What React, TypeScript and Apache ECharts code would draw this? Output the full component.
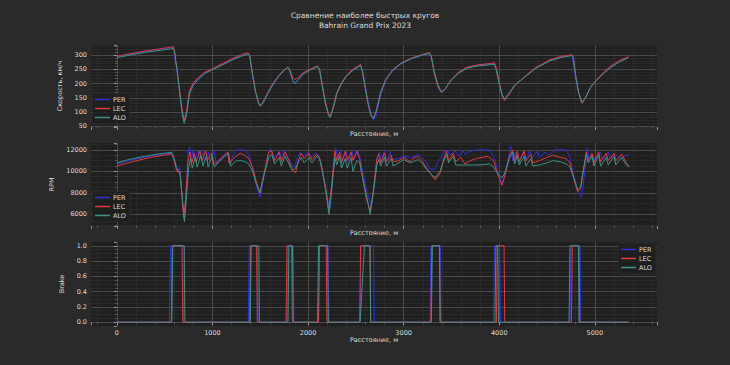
import React, { useEffect, useRef } from 'react';
import * as echarts from 'echarts';

const drivers = ['PER', 'LEC', 'ALO'];
const driverColors = ['#2f2fe0', '#e6383c', '#3a9585'];
const titleText = 'Сравнение наиболее быстрых кругов\nBahrain Grand Prix 2023';
const xName = 'Расстояние, м';
const yNames = ['Скорость, км/ч', 'RPM', 'Brake'];

const speedDist = [
  0, 100, 200, 300, 400, 500, 560, 590, 605, 615,
  630, 650, 670, 690, 705, 730, 760, 800, 860, 920,
  1000, 1100, 1200, 1300, 1370, 1390, 1420, 1450, 1480, 1500,
  1530, 1580, 1640, 1700, 1760, 1790, 1810, 1840, 1860, 1890,
  1950, 2030, 2100, 2120, 2150, 2180, 2210, 2230, 2260, 2300,
  2350, 2400, 2470, 2550, 2570, 2600, 2630, 2660, 2685, 2710,
  2760, 2810, 2880, 2970, 3080, 3180, 3270, 3290, 3320, 3360,
  3395, 3430, 3500, 3580, 3670, 3780, 3880, 3950, 3970, 4000,
  4030, 4055, 4090, 4160, 4260, 4380, 4530, 4650, 4760, 4775,
  4800, 4830, 4865, 4900, 4960, 5020, 5100, 5160, 5250, 5353,
];

const perSpeed = [
  295, 301, 307, 313, 318, 323, 326, 329, 290, 276,
  240, 185, 130, 85, 64, 95, 168, 198, 220, 237,
  250, 267, 284, 298, 306, 295, 225, 170, 135, 124,
  130, 165, 200, 228, 250, 258, 245, 212, 200, 212,
  235, 250, 261, 250, 190, 135, 95, 84, 110, 165,
  200, 225, 248, 265, 245, 190, 135, 95, 72, 84,
  160, 208, 243, 269, 287, 298, 306, 292, 240, 192,
  172, 180, 214, 240, 257, 265, 269, 272, 248, 200,
  162, 143, 158, 193, 222, 255, 282, 294, 301, 270,
  215, 168, 132, 148, 190, 213, 240, 258, 278, 294,
];

const lecSpeed = [
  296, 303, 309, 315, 320, 325, 328, 331, 310, 282,
  255, 195, 140, 95, 70, 105, 175, 203, 224, 240,
  252, 270, 287, 301, 309, 300, 235, 175, 135, 122,
  135, 170, 204, 231, 252, 258, 248, 222, 214, 220,
  238, 252, 262, 252, 195, 140, 98, 82, 112, 168,
  203, 228, 251, 267, 238, 180, 125, 85, 80, 100,
  170, 213, 247, 272, 290, 301, 309, 295, 235, 188,
  168, 178, 215, 242, 259, 266, 270, 273, 255, 205,
  158, 140, 156, 192, 223, 256, 284, 296, 302, 293,
  228, 170, 130, 148, 190, 214, 242, 260, 280, 295,
];

const aloSpeed = [
  292, 298, 304, 310, 315, 319, 322, 324, 312, 282,
  250, 190, 130, 82, 60, 92, 163, 195, 217, 235,
  249, 265, 282, 296, 304, 298, 230, 172, 132, 120,
  132, 166, 201, 229, 250, 257, 244, 210, 199, 210,
  234, 249, 260, 250, 188, 132, 92, 80, 108, 163,
  200, 225, 247, 264, 244, 185, 128, 86, 76, 98,
  168, 211, 245, 270, 288, 299, 307, 296, 242, 195,
  170, 179, 213, 238, 255, 262, 266, 268, 246, 198,
  160, 145, 160, 194, 221, 253, 280, 292, 299, 290,
  225, 168, 133, 150, 190, 212, 238, 255, 275, 291,
];

const perRpm = [
  [0, 10700], [100, 10950], [200, 11150], [300, 11350], [400, 11500], [500, 11620], [570, 11700], [600, 11200],
  [625, 10300], [640, 10000], [655, 10400], [670, 9200], [690, 6500], [707, 5500], [725, 8000], [745, 11600],
  [760, 12300], [780, 11000], [800, 12100], [815, 11200], [850, 11900], [865, 11100], [900, 11900], [915, 11000],
  [960, 11800], [975, 10900], [1020, 11900], [1040, 10700], [1100, 11300], [1160, 11750], [1180, 10800], [1240, 11900],
  [1260, 12000], [1330, 12000], [1370, 11700], [1400, 11000], [1440, 9500], [1470, 8300], [1500, 7600], [1540, 9500],
  [1580, 11600], [1610, 12100], [1640, 11200], [1700, 11900], [1720, 11100], [1750, 12000], [1790, 11300], [1830, 10600],
  [1860, 10400], [1890, 11300], [1920, 11800], [1950, 11400], [2000, 11800], [2030, 11300], [2080, 11700], [2110, 11500],
  [2140, 10500], [2170, 9000], [2200, 7500], [2230, 6600], [2260, 9500], [2290, 12200], [2310, 11200], [2340, 11900],
  [2360, 10900], [2400, 11800], [2420, 11000], [2460, 11900], [2480, 11100], [2520, 11900], [2545, 11300], [2580, 9600],
  [2620, 8000], [2660, 6800], [2690, 8500], [2720, 11000], [2745, 11800], [2760, 11000], [2800, 11900], [2820, 11000],
  [2860, 11800], [2880, 11100], [2950, 11200], [3000, 11400], [3080, 11300], [3150, 11600], [3190, 11300], [3240, 10800],
  [3280, 10200], [3320, 10200], [3370, 11000], [3420, 11800], [3460, 12000], [3480, 11500], [3540, 11900], [3580, 11400],
  [3620, 12000], [3640, 11600], [3700, 11900], [3760, 12000], [3900, 12000], [3950, 11200], [3990, 9800], [4030, 8800],
  [4060, 9800], [4120, 12400], [4140, 11000], [4170, 11800], [4200, 10800], [4250, 11800], [4270, 11000], [4320, 11900],
  [4340, 11200], [4400, 11900], [4420, 11300], [4480, 11800], [4520, 11500], [4580, 12000], [4700, 12000], [4740, 11300],
  [4780, 9500], [4820, 8200], [4860, 7600], [4890, 9500], [4920, 12200], [4940, 11200], [4980, 11600], [5000, 11000],
  [5060, 11800], [5080, 11100], [5140, 11800], [5160, 11200], [5220, 11600], [5260, 11200], [5330, 11500], [5360, 11500],
];

const lecRpm = [
  [0, 10500], [100, 10750], [200, 10980], [300, 11200], [400, 11380], [500, 11520], [575, 11620], [600, 11000],
  [625, 10100], [640, 9900], [660, 10000], [680, 8000], [700, 5700], [720, 7500], [745, 11000], [765, 11800],
  [785, 10800], [810, 11700], [830, 10900], [870, 11900], [890, 11000], [930, 11900], [945, 11000], [990, 11700],
  [1010, 10600], [1060, 11000], [1120, 11500], [1160, 11800], [1175, 10700], [1230, 11300], [1290, 11700], [1340, 11500],
  [1380, 11200], [1420, 10400], [1460, 9000], [1500, 8000], [1540, 9800], [1590, 11800], [1620, 11900], [1650, 11000],
  [1700, 11800], [1720, 10900], [1760, 11800], [1800, 11000], [1840, 10000], [1870, 9900], [1900, 11000], [1930, 11700],
  [1960, 11200], [2010, 11700], [2040, 11100], [2090, 11600], [2120, 11300], [2150, 10200], [2180, 8500], [2215, 6300],
  [2250, 9000], [2280, 11900], [2300, 11000], [2330, 11800], [2350, 10800], [2390, 11900], [2410, 11000], [2450, 11800],
  [2470, 11000], [2510, 11900], [2540, 11100], [2570, 9500], [2610, 7500], [2650, 6300], [2680, 8000], [2720, 11200],
  [2740, 11600], [2760, 10800], [2800, 11700], [2820, 10900], [2870, 11500], [2890, 10900], [2950, 11000], [3000, 11300],
  [3070, 10900], [3100, 11200], [3150, 11400], [3190, 11000], [3240, 10300], [3290, 9700], [3330, 9200], [3380, 9800],
  [3420, 11200], [3450, 11900], [3470, 11000], [3520, 11700], [3545, 10900], [3600, 11300], [3640, 10700], [3700, 11000],
  [3760, 11200], [3820, 11300], [3880, 11400], [3940, 11000], [3990, 9600], [4030, 8700], [4060, 9600], [4110, 11500],
  [4140, 12000], [4160, 11000], [4190, 11900], [4210, 10900], [4260, 11900], [4280, 11000], [4330, 11600], [4350, 10800],
  [4420, 11000], [4500, 11300], [4560, 11500], [4640, 11300], [4700, 11200], [4740, 10800], [4780, 9300], [4820, 8100],
  [4850, 8300], [4880, 10000], [4910, 11800], [4930, 11000], [4970, 11700], [4990, 10800], [5040, 11800], [5060, 10900],
  [5120, 11700], [5140, 11000], [5200, 11700], [5220, 11000], [5280, 11600], [5330, 10800], [5360, 10400],
];

const aloRpm = [
  [0, 10800], [100, 11050], [200, 11250], [300, 11420], [400, 11580], [500, 11700], [575, 11780], [600, 11200],
  [625, 10300], [640, 10100], [660, 9900], [685, 7500], [707, 5300], [725, 7200], [750, 10200], [770, 11200],
  [790, 10300], [820, 11300], [840, 10400], [880, 11500], [900, 10500], [940, 11500], [955, 10400], [1000, 11500],
  [1020, 10400], [1070, 10900], [1130, 11400], [1170, 11700], [1190, 10500], [1250, 11000], [1300, 11000], [1340, 10900],
  [1380, 10700], [1420, 10000], [1460, 8800], [1495, 8000], [1540, 9700], [1590, 11300], [1620, 11600], [1650, 10700],
  [1700, 11300], [1720, 10500], [1760, 11400], [1800, 10700], [1840, 10100], [1870, 10300], [1900, 10900], [1930, 11300],
  [1960, 10800], [2010, 11300], [2040, 10800], [2090, 11400], [2120, 11200], [2150, 10000], [2190, 8200], [2220, 6000],
  [2250, 8500], [2280, 11300], [2300, 10600], [2330, 11400], [2350, 10300], [2390, 11200], [2410, 10300], [2450, 11300],
  [2470, 10000], [2510, 11000], [2540, 10800], [2570, 9400], [2610, 7800], [2650, 6000], [2680, 7800], [2720, 10600],
  [2740, 11100], [2760, 10500], [2800, 11300], [2820, 10500], [2870, 11200], [2890, 10500], [2950, 10800], [3000, 11100],
  [3070, 10800], [3100, 10900], [3150, 11100], [3190, 10800], [3240, 10200], [3290, 9700], [3330, 9400], [3380, 10000],
  [3420, 11000], [3450, 11600], [3470, 10800], [3520, 11400], [3545, 10600], [3620, 10600], [3700, 10600], [3800, 10600],
  [3900, 10700], [3950, 10300], [3990, 9700], [4030, 9400], [4060, 9900], [4110, 11300], [4140, 11800], [4160, 10700],
  [4190, 11500], [4210, 10600], [4260, 11400], [4280, 10500], [4330, 11200], [4350, 10500], [4420, 10600], [4500, 10800],
  [4560, 11000], [4640, 10900], [4700, 10700], [4740, 10400], [4780, 9400], [4820, 8300], [4850, 8500], [4880, 10200],
  [4910, 11600], [4930, 10800], [4970, 11400], [4990, 10500], [5040, 11500], [5060, 10500], [5120, 11300], [5140, 10600],
  [5200, 11400], [5220, 10600], [5280, 11300], [5330, 10600], [5360, 10500],
];

const perBrake = [
  [0, 0], [550, 0], [562, 1], [690, 1], [698, 0], [1375, 0], [1385, 1], [1470, 1], [1478, 0],
  [1780, 0], [1790, 1], [1845, 1], [1852, 0], [2110, 0], [2120, 1], [2210, 1], [2218, 0],
  [2545, 0], [2555, 1], [2685, 1], [2693, 0], [3275, 0], [3285, 1], [3385, 1], [3392, 0],
  [3940, 0], [3950, 1], [4005, 1], [4012, 0], [4740, 0], [4750, 1], [4845, 1], [4852, 0], [5353, 0],
];

const lecBrake = [
  [0, 0], [570, 0], [580, 1], [682, 1], [690, 0], [1390, 0], [1400, 1], [1462, 1], [1470, 0],
  [1770, 0], [1780, 1], [1828, 1], [1835, 0], [2110, 0], [2120, 1], [2190, 1], [2198, 0],
  [2540, 0], [2550, 1], [2648, 1], [2655, 0], [3285, 0], [3295, 1], [3375, 1], [3382, 0],
  [3970, 0], [3980, 1], [4050, 1], [4058, 0], [4755, 0], [4765, 1], [4835, 1], [4842, 0], [5353, 0],
];

const aloBrake = [
  [0, 0], [575, 0], [585, 1], [705, 1], [712, 0], [1395, 0], [1405, 1], [1485, 1], [1492, 0],
  [1790, 0], [1800, 1], [1838, 1], [1845, 0], [2100, 0], [2110, 1], [2205, 1], [2212, 0],
  [2545, 0], [2590, 1], [2648, 1], [2655, 0], [3290, 0], [3300, 1], [3375, 1], [3382, 0],
  [3955, 0], [3965, 1], [3985, 1], [3992, 0], [4730, 0], [4740, 1], [4828, 1], [4835, 0], [5353, 0],
];

const FONT = 'DejaVu Sans';
const TEXT = '#dcdcdc';
const plain = (v: number) => String(v);

function makeX(gridIndex: number, showLabels: boolean, nameGap: number) {
  return {
    type: 'value',
    gridIndex,
    min: -270,
    max: 5650,
    splitNumber: 5,
    name: xName,
    nameLocation: 'middle',
    nameGap,
    nameTextStyle: { color: TEXT, fontSize: 6.5, fontFamily: FONT },
    axisLine: { show: false },
    axisTick: { show: true, length: 3, lineStyle: { color: '#b0b0b0', width: 0.8 } },
    minorTick: { show: true, splitNumber: 5, length: 1.5, lineStyle: { color: '#909090', width: 0.6 } },
    axisLabel: {
      show: showLabels, color: TEXT, fontSize: 6.5, fontFamily: FONT, margin: 3,
      showMinLabel: false, showMaxLabel: false, formatter: plain,
    },
    splitLine: { show: true, showMinLine: false, showMaxLine: false, lineStyle: { color: '#565656', width: 0.8 } },
    minorSplitLine: { show: true, lineStyle: { color: '#313131', width: 0.6 } },
  };
}

function makeY(gridIndex: number, min: number, max: number, name: string, nameGap: number, minorSplit: number, fmt: (v: number) => string) {
  return {
    type: 'value',
    gridIndex,
    min,
    max,
    splitNumber: 5,
    name,
    nameLocation: 'middle',
    nameGap,
    nameTextStyle: { color: TEXT, fontSize: 6.5, fontFamily: FONT },
    axisLine: { show: false },
    axisTick: { show: true, length: 3, lineStyle: { color: '#b0b0b0', width: 0.8 } },
    minorTick: { show: true, splitNumber: minorSplit, length: 1.5, lineStyle: { color: '#909090', width: 0.6 } },
    axisLabel: {
      color: TEXT, fontSize: 6.5, fontFamily: FONT, margin: 4,
      showMinLabel: false, showMaxLabel: false,
      formatter: fmt,
    },
    splitLine: { show: true, showMinLine: false, showMaxLine: false, lineStyle: { color: '#565656', width: 0.8 } },
    minorSplitLine: { show: true, lineStyle: { color: '#313131', width: 0.6 } },
  };
}

function makeLegend(left: number, top: number) {
  return {
    data: drivers,
    orient: 'vertical',
    left,
    top,
    icon: 'rect',
    itemWidth: 15,
    itemHeight: 1.5,
    itemGap: 0,
    selectedMode: false,
    padding: [2, 4, 2, 3],
    backgroundColor: 'rgba(30,30,30,0.85)',
    borderColor: 'rgba(90,90,90,0.5)',
    borderWidth: 0.5,
    borderRadius: 2,
    textStyle: { color: TEXT, fontSize: 6.5, fontFamily: FONT, lineHeight: 9, padding: [0, 0, 0, -2] },
  };
}

function lineSeries(name: string, data: number[][], idx: number, color: string) {
  return {
    type: 'line',
    name,
    data,
    xAxisIndex: idx,
    yAxisIndex: idx,
    showSymbol: false,
    symbol: 'none',
    lineStyle: { color, width: 1 },
    itemStyle: { color },
    clip: true,
    silent: true,
  };
}

export default function App() {
  const ref = useRef<HTMLDivElement>(null);
  useEffect(() => {
    document.body.style.margin = '0';
    const chart = echarts.init(ref.current!, null, { renderer: 'svg' });
    const speedSets = [perSpeed, lecSpeed, aloSpeed];
    const rpmSets = [perRpm, lecRpm, aloRpm];
    const brakeSets = [perBrake, lecBrake, aloBrake];
    const series: any[] = [];
    drivers.forEach((d, i) => {
      series.push(lineSeries(d, speedDist.map((x, k) => [x, speedSets[i][k]]), 0, driverColors[i]));
    });
    drivers.forEach((d, i) => {
      series.push(lineSeries(d, rpmSets[i], 1, driverColors[i]));
    });
    drivers.forEach((d, i) => {
      series.push(lineSeries(d, brakeSets[i], 2, driverColors[i]));
    });
    chart.setOption({
      animation: false,
      backgroundColor: '#2a2a2a',
      title: {
        text: titleText,
        left: 'center',
        top: 6,
        textStyle: { color: TEXT, fontSize: 7.5, fontWeight: 'normal', fontFamily: FONT, lineHeight: 9.5 },
      },
      grid: [
        { left: 91, right: 73, top: 45, height: 82, show: true, backgroundColor: '#1f1f1f', borderWidth: 0 },
        { left: 91, right: 73, top: 143, height: 83, show: true, backgroundColor: '#1f1f1f', borderWidth: 0 },
        { left: 91, right: 73, top: 242, height: 84, show: true, backgroundColor: '#1f1f1f', borderWidth: 0 },
      ],
      xAxis: [makeX(0, false, 3), makeX(1, false, 3), makeX(2, true, 10)],
      yAxis: [
        makeY(0, 47, 336, yNames[0], 17, 5, plain),
        makeY(1, 4900, 12650, yNames[1], 24, 4, plain),
        makeY(2, -0.05, 1.05, yNames[2], 15, 4, (v: number) => v.toFixed(1)),
      ],
      legend: [makeLegend(92, 93), makeLegend(92, 191), makeLegend(618, 243)],
      series,
    });
    return () => chart.dispose();
  }, []);
  return <div ref={ref} style={{ width: 730, height: 365 }} />;
}
